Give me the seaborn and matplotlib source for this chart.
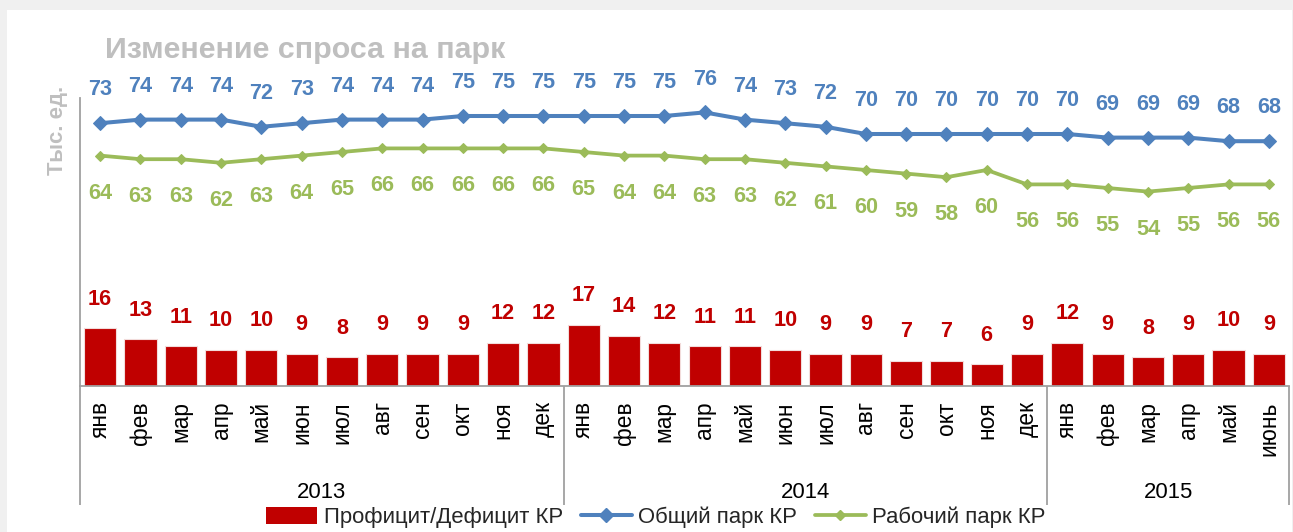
import numpy as np
import pandas as pd
import seaborn as sns
import matplotlib.pyplot as plt
from matplotlib import font_manager
from matplotlib.patches import Patch, Rectangle
from matplotlib.lines import Line2D
import matplotlib.transforms as mtransforms

# --- data ---
years = ["2013", "2014", "2015"]
months_2013 = ["янв", "фев", "мар", "апр", "май", "июн", "июл", "авг", "сен", "окт", "ноя", "дек"]
months_2014 = ["янв", "фев", "мар", "апр", "май", "июн", "июл", "авг", "сен", "окт", "ноя", "дек"]
months_2015 = ["янв", "фев", "мар", "апр", "май", "июнь"]

total_park = [73, 74, 74, 74, 72, 73, 74, 74, 74, 75, 75, 75,
              75, 75, 75, 76, 74, 73, 72, 70, 70, 70, 70, 70,
              70, 69, 69, 69, 68, 68]
work_park = [64, 63, 63, 62, 63, 64, 65, 66, 66, 66, 66, 66,
             65, 64, 64, 63, 63, 62, 61, 60, 59, 58, 60, 56,
             56, 55, 54, 55, 56, 56]
surplus = [16, 13, 11, 10, 10, 9, 8, 9, 9, 9, 12, 12,
           17, 14, 12, 11, 11, 10, 9, 9, 7, 7, 6, 9,
           12, 9, 8, 9, 10, 9]

months = months_2013 + months_2014 + months_2015
year_of = ["2013"] * 12 + ["2014"] * 12 + ["2015"] * 6
df = pd.DataFrame({
    "key": [f"{y}-{i}" for i, y in enumerate(year_of)],
    "month": months,
    "year": year_of,
    "surplus": surplus,
    "total": total_park,
    "work": work_park,
})
df["pos"] = np.arange(len(df))

sns.set_theme(style="white")

# font: prefer a narrow face like the original (Arial Narrow look)
names = {f.name for f in font_manager.fontManager.ttflist}
if "Liberation Sans Narrow" in names:
    FONT, k = "Liberation Sans Narrow", 1.0
else:
    FONT, k = "Liberation Sans", 0.84
plt.rcParams["font.family"] = [FONT, "DejaVu Sans"]

RED = "#C00000"
BLUE = "#4F81BD"
GREEN = "#9BBB59"
GRAY_TXT = "#BFBFBF"
AXIS = "#A0A0A0"

W, H = 1293, 532
fig = plt.figure(figsize=(W / 100, H / 100), dpi=100)
fig.patch.set_facecolor("#F0F0F0")
fig.patches.append(Rectangle((7 / W, 0), (1292 - 7) / W, (H - 10) / H,
                             transform=fig.transFigure, facecolor="white",
                             edgecolor="none", zorder=-10))

ax = fig.add_axes([80 / W, 1 - 386 / H, (1289 - 80) / W, (386 - 98) / H])
ax.set_facecolor("none")

sns.barplot(data=df, x="key", y="surplus", color=RED, width=0.8,
            saturation=1, edgecolor="#F2DCDB", linewidth=0.8, ax=ax, zorder=2)
sns.lineplot(x=df["pos"], y=df["total"], color=BLUE, linewidth=2.9,
             marker="D", markersize=7.5, markeredgecolor=BLUE, ax=ax, zorder=3)
sns.lineplot(x=df["pos"], y=df["work"], color=GREEN, linewidth=2.7,
             marker="D", markersize=5.2, markeredgecolor=GREEN, ax=ax, zorder=3)

ax.set_xlim(-0.5, len(df) - 0.5)
ax.set_ylim(0, 80)
ax.set_yticks([])
ax.set_xlabel("")
ax.set_ylabel("")
for s in ["top", "right"]:
    ax.spines[s].set_visible(False)
for s in ["left", "bottom"]:
    ax.spines[s].set_color(AXIS)
    ax.spines[s].set_linewidth(1.3)

ax.set_xticks(df["pos"])
ax.set_xticklabels(df["month"], rotation=90, fontsize=19.5 * k, color="black")
ax.tick_params(axis="x", length=0, pad=11)

# data labels
lab = dict(ha="center", va="center", fontweight="bold", fontsize=18.5 * k)
for x, v in zip(df["pos"], df["total"]):
    ax.annotate(str(v), (x, v), xytext=(0, 24), textcoords="offset points",
                color=BLUE, **lab)
for x, v in zip(df["pos"], df["work"]):
    ax.annotate(str(v), (x, v), xytext=(0, -27), textcoords="offset points",
                color=GREEN, **lab)
for x, v in zip(df["pos"], df["surplus"]):
    ax.annotate(str(v), (x, v), xytext=(0, 21), textcoords="offset points",
                color=RED, **lab)

# year grouping below the month labels
tr = mtransforms.blended_transform_factory(ax.transData, ax.transAxes)
low = -(505 - 386) / (386 - 98)
for xb in [-0.5, 11.5, 23.5, 29.5]:
    ax.plot([xb, xb], [0, low], transform=tr, color=AXIS, lw=1.3,
            clip_on=False, solid_capstyle="butt")
ydesc = -(492 - 386) / (386 - 98)
start = 0
for y in years:
    n = year_of.count(y)
    ax.text(start + (n - 1) / 2, ydesc, y, transform=tr, ha="center",
            va="center", fontsize=19 * k, color="black")
    start += n

fig.text(105 / W, 1 - 50 / H, "Изменение спроса на парк", ha="left",
         va="center", fontsize=26 * k, fontweight="bold", color=GRAY_TXT)
fig.text(57 / W, 1 - 130 / H, "Тыс. ед.", rotation=90, ha="center",
         va="center", fontsize=19 * k, fontweight="bold", color=GRAY_TXT)

handles = [
    Patch(facecolor=RED, edgecolor="none"),
    Line2D([], [], color=BLUE, lw=2.9, marker="D", markersize=7.5),
    Line2D([], [], color=GREEN, lw=2.7, marker="D", markersize=5.2),
]
labels = ["Профицит/Дефицит КР", "Общий парк КР", "Рабочий парк КР"]
fig.legend(handles, labels, loc="center", bbox_to_anchor=(656 / W, 1 - 517 / H),
           ncol=3, frameon=False, fontsize=19 * k, handlelength=2.3,
           handleheight=0.8, handletextpad=0.3, columnspacing=0.8,
           borderpad=0, borderaxespad=0)

fig.savefig("out.png", dpi=100, facecolor=fig.get_facecolor())
